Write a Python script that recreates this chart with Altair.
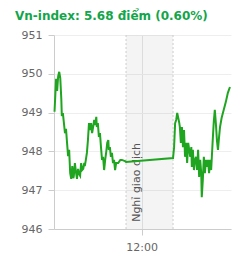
import altair as alt
import pandas as pd

title_text = "Vn-index: 5.68 điểm (0.60%)"
break_label = "Nghỉ giao dịch"

# minutes since midnight
times = [553, 556, 558, 560, 562, 564, 566, 567, 569, 571, 573, 575, 577, 579, 581,
         583, 585, 587, 589, 590, 592, 594, 596, 598, 600, 602, 604, 606, 608, 610,
         611, 613, 615, 617, 619, 621, 623, 625, 627, 629, 631, 633, 634, 636, 638,
         640, 642, 644, 646, 648, 650, 652, 654, 656, 657, 659, 661, 663, 665, 667,
         669, 671, 675, 679, 682, 688, 690,
         780, 782, 784, 786, 788, 790, 792, 793, 795, 797, 799, 801, 803, 805, 807,
         809, 811, 813, 815, 816, 818, 820, 822, 824, 826, 828, 830, 832, 834, 835,
         837, 839, 841, 843, 845, 847, 849, 851, 853, 854, 856, 858, 860, 862, 864,
         866, 868, 870, 873, 877, 881, 885, 889]
values = [949.02, 949.87, 949.56, 949.94, 950.05, 949.89, 949.35, 948.91, 948.99, 948.73,
          948.47, 948.58, 948.22, 947.88, 948.04, 947.44, 947.29, 947.62, 947.31, 947.37,
          947.70, 947.47, 947.29, 947.55, 947.42, 947.37, 947.70, 947.52, 947.55, 947.70,
          947.62, 947.78, 947.96, 948.29, 948.73, 948.55, 948.73, 948.47, 948.63, 948.81,
          948.68, 948.89, 948.63, 948.73, 948.37, 948.47, 948.11, 947.78, 947.86, 947.52,
          947.78, 947.98, 948.22, 948.29, 948.04, 948.11, 947.86, 947.96, 947.70, 947.78,
          947.52, 947.70, 947.70, 947.78, 947.78, 947.75, 947.73,
          947.83, 948.11, 948.73, 948.81, 948.99, 948.86, 948.73, 948.63, 948.22, 948.63,
          948.11, 948.55, 947.86, 948.22, 947.70, 948.22, 948.04, 947.86, 948.11, 947.60,
          948.04, 947.52, 947.78, 947.86, 947.52, 948.04, 947.34, 947.78, 947.44, 946.82,
          947.26, 947.86, 947.44, 947.78, 947.60, 947.78, 947.44, 947.78, 947.52, 947.78,
          948.29, 948.76, 949.07, 948.73, 948.29, 948.04, 948.35, 948.63, 948.86, 949.07,
          949.27, 949.51, 949.66]

x_domain = [552, 891]
y_domain = [946, 951]
y_ticks = [946, 947, 948, 949, 950, 951]
x_ticks = [720]
break_start = [690]
break_end = [780]
label_pos_x = [711]
label_pos_y = [947.2]

df = pd.DataFrame({"t": times, "v": values})
band_df = pd.DataFrame({"s": break_start, "e": break_end})
edge_df = pd.DataFrame({"t": break_start + break_end})
lab_df = pd.DataFrame({"t": label_pos_x, "v": label_pos_y, "txt": [break_label]})

FONT = "DejaVu Sans"

xscale = alt.Scale(domain=x_domain, nice=False, zero=False)
yscale = alt.Scale(domain=y_domain, nice=False, zero=False)

xaxis = alt.Axis(values=x_ticks, title=None, grid=True, gridColor="#e6e6e6",
                 labelExpr="timeFormat(datetime(2000,0,1,floor(datum.value/60),datum.value%60),'%H:%M')",
                 labelFont=FONT, labelFontSize=11, labelColor="#666666",
                 tickColor="#cccccc", tickSize=6, domainColor="#cccccc",
                 labelPadding=6)
yaxis = alt.Axis(values=y_ticks, title=None, grid=True, gridColor="#eeeeee",
                 format="d", labelFont=FONT, labelFontSize=11, labelColor="#666666",
                 tickColor="#cccccc", tickSize=6, domainColor="#cccccc",
                 labelPadding=6, labelOverlap=False)

band = alt.Chart(band_df).mark_rect(color="#000000", opacity=0.045).encode(
    x=alt.X("s:Q", scale=xscale, axis=xaxis),
    x2="e:Q",
    y=alt.value(0),
    y2=alt.value(194),
)

edges = alt.Chart(edge_df).mark_rule(color="#cccccc", strokeDash=[2, 2], strokeWidth=1).encode(
    x=alt.X("t:Q", scale=xscale, axis=xaxis),
    y=alt.value(0),
    y2=alt.value(194),
)

label = alt.Chart(lab_df).mark_text(angle=270, font=FONT, fontSize=11, color="#555555",
                                    align="center", baseline="middle").encode(
    x=alt.X("t:Q", scale=xscale, axis=xaxis),
    y=alt.Y("v:Q", scale=yscale, axis=yaxis),
    text="txt:N",
)

line = alt.Chart(df).mark_line(color="#20a520", strokeWidth=2).encode(
    x=alt.X("t:Q", scale=xscale, axis=xaxis),
    y=alt.Y("v:Q", scale=yscale, axis=yaxis),
)

chart = alt.layer(band, edges, label, line).properties(
    width=177,
    height=194,
    title=alt.TitleParams(title_text, anchor="start", font=FONT, fontSize=12,
                          fontWeight="bold", color="#12a54a", dx=-6, offset=6),
    autosize=alt.AutoSizeParams(type="none"),
    padding={"left": 54, "top": 35, "right": 16, "bottom": 24},
).configure_view(stroke=None)

chart.save("out.html", embed_options={"renderer": "svg", "actions": False})
